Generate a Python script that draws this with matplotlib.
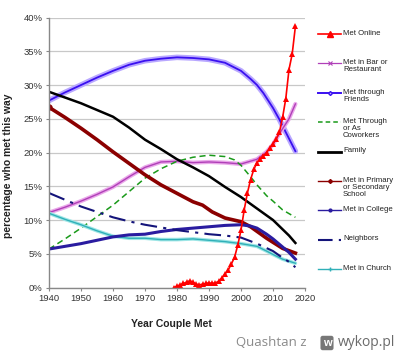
import numpy as np
import matplotlib
matplotlib.use('Agg')
import matplotlib.pyplot as plt
from matplotlib.lines import Line2D
from matplotlib.ticker import FuncFormatter

plt.rcParams['font.family'] = ['Liberation Sans', 'DejaVu Sans']

# data (percent of couples)
online_years = list(range(1979, 2018))
online = [0.0, 0.2, 0.4, 0.6, 0.8, 1.0, 0.8, 0.5, 0.4, 0.5, 0.6, 0.7, 0.6, 0.7,
          0.9, 1.4, 2.0, 2.6, 3.5, 4.5, 6.3, 8.5, 11.5, 14.0, 16.0, 17.5, 18.5,
          19.0, 19.5, 20.0, 20.7, 21.3, 22.0, 23.0, 25.2, 28.0, 32.3, 34.6, 38.7]

bar_years = [1940, 1945, 1950, 1955, 1960, 1965, 1970, 1975, 1980, 1985, 1990, 1995,
             2000, 2005, 2008, 2010, 2012, 2015, 2017]
bar = [11.1, 11.9, 12.8, 13.8, 14.9, 16.4, 17.8, 18.6, 18.7, 18.5, 18.6, 18.5,
       18.3, 19.0, 20.1, 21.2, 22.8, 25.0, 27.2]

friends_years = [1940, 1945, 1950, 1955, 1960, 1965, 1970, 1975, 1980, 1985, 1990, 1995,
                 2000, 2003, 2005, 2007, 2010, 2012, 2014, 2017]
friends = [27.7, 28.9, 30.0, 31.1, 32.1, 33.0, 33.6, 33.9, 34.1, 34.0, 33.8, 33.3,
           32.1, 30.9, 30.0, 28.8, 26.6, 24.9, 23.0, 20.2]

cowork_years = [1940, 1945, 1950, 1955, 1960, 1965, 1970, 1975, 1980, 1985, 1990, 1995,
                1998, 2000, 2003, 2005, 2008, 2010, 2013, 2017]
cowork = [5.7, 7.2, 8.8, 10.5, 12.2, 14.2, 16.2, 17.6, 18.7, 19.3, 19.6, 19.4,
          18.9, 18.1, 16.4, 15.2, 13.6, 12.8, 11.5, 10.4]

family_years = [1940, 1950, 1960, 1965, 1970, 1975, 1980, 1985, 1990, 1995, 2000,
                2005, 2010, 2015, 2017]
family = [29.0, 27.3, 25.3, 23.7, 21.9, 20.5, 19.0, 17.8, 16.5, 14.9, 13.4,
          11.7, 10.0, 7.7, 6.6]

school_years = [1940, 1945, 1950, 1955, 1960, 1965, 1970, 1975, 1981, 1985, 1988,
                1991, 1995, 2000, 2003, 2008, 2013, 2017]
school = [26.7, 25.2, 23.6, 21.9, 20.1, 18.4, 16.7, 15.2, 13.7, 12.7, 12.2,
          11.2, 10.3, 9.75, 9.0, 7.3, 5.8, 5.1]

college_years = [1940, 1945, 1950, 1955, 1960, 1965, 1970, 1975, 1980, 1985, 1990,
                 1995, 2000, 2003, 2005, 2008, 2010, 2013, 2015, 2017]
college = [5.7, 6.1, 6.5, 7.0, 7.5, 7.8, 7.9, 8.3, 8.6, 8.8, 9.0,
           9.2, 9.3, 9.1, 8.8, 7.9, 7.2, 6.0, 5.2, 4.2]

neigh_years = [1940, 1945, 1950, 1955, 1960, 1965, 1970, 1975, 1980, 1985, 1990,
               1995, 2000, 2005, 2010, 2013, 2015, 2017]
neigh = [14.0, 13.0, 12.0, 11.2, 10.4, 9.8, 9.3, 8.9, 8.5, 8.2, 7.9,
         7.7, 7.4, 6.5, 5.4, 4.4, 3.8, 3.0]

church_years = [1940, 1945, 1950, 1955, 1960, 1965, 1970, 1975, 1980, 1985, 1990,
                1995, 2000, 2005, 2008, 2010, 2013, 2017]
church = [11.0, 10.1, 9.3, 8.4, 7.6, 7.3, 7.3, 7.1, 7.1, 7.2, 7.0,
          6.8, 6.5, 6.1, 5.4, 4.9, 4.2, 3.6]

legend_labels = ['Met Online', 'Met in Bar or\nRestaurant', 'Met through\nFriends',
                 'Met Through\nor As\nCoworkers', 'Family',
                 'Met in Primary\nor Secondary\nSchool', 'Met in College',
                 'Neighbors', 'Met in Church']

fig = plt.figure(figsize=(4, 3.52), dpi=100)
ax = fig.add_axes([0.1225, 0.1832, 0.64, 0.767])

# gridlines
ax.set_axisbelow(True)
ax.grid(axis='y', color='#c8c8c8', lw=0.9)

# halo + line for the dense-marker series
ax.plot(friends_years, friends, color='#b9a8ff', lw=4.0, solid_capstyle='round')
ax.plot(friends_years, friends, color='#3a10f0', lw=1.3)
ax.plot(bar_years, bar, color='#eaa8ea', lw=3.0, solid_capstyle='round')
ax.plot(bar_years, bar, color='#b040b8', lw=1.0)
ax.plot(cowork_years, cowork, color='#1a9a1a', lw=1.1, dashes=(4, 2.5))
ax.plot(family_years, family, color='black', lw=1.8)
ax.plot(school_years, school, color='#8b0000', lw=2.6)
ax.plot(school_years[:1], school[:1], 'o', color='#8b0000', ms=3.5)
ax.plot(church_years, church, color='#9ee6e6', lw=2.6, solid_capstyle='round')
ax.plot(church_years, church, color='#30b0b8', lw=1.0)
ax.plot(college_years, college, color='#2a1ca0', lw=2.2)
ax.plot(neigh_years, neigh, color='#14147a', lw=1.5, dashes=(8, 3, 1.5, 3))
ax.plot(online_years, online, color='#ff0000', lw=1.2, marker='^', ms=4.2,
        markeredgewidth=0)

ax.set_xlim(1940, 2020)
ax.set_ylim(0, 40)
ax.set_xticks(range(1940, 2021, 10))
ax.set_yticks(range(0, 41, 5))
ax.yaxis.set_major_formatter(FuncFormatter(lambda v, p: '%d%%' % v))
ax.tick_params(labelsize=6.8, colors='#333333', length=2.5, width=0.8,
               color='#888888', pad=2)

for s in ['top', 'right']:
    ax.spines[s].set_visible(False)
for s in ['left', 'bottom']:
    ax.spines[s].set_color('#888888')
    ax.spines[s].set_linewidth(1.0)

ax.set_ylabel('percentage who met this way', fontsize=7.5, fontweight='bold',
              color='#222222')
ax.yaxis.set_label_coords(-0.14, 0.45)
ax.set_xlabel('Year Couple Met', fontsize=7.5, fontweight='bold', color='#222222')
ax.xaxis.set_label_coords(0.48, -0.117)

# legend, drawn by hand to copy the spacing
handles = [
    dict(color='#ff0000', lw=1.2, marker='^', ms=4),
    dict(color='#b040b8', lw=0.9, marker='x', ms=3, mew=0.8),
    dict(color='#3a10f0', lw=1.4, marker='D', ms=2, mfc='#b9a8ff'),
    dict(color='#1a9a1a', lw=1.1, dashes=(3, 2)),
    dict(color='black', lw=2.0),
    dict(color='#8b0000', lw=1.0, marker='D', ms=2),
    dict(color='#2a1ca0', lw=1.0, marker='o', ms=2),
    dict(color='#14147a', lw=1.5, dashes=(7, 3, 1.5, 3)),
    dict(color='#30b0b8', lw=1.0, marker='+', ms=3.5),
]
W, H = 400.0, 352.0
for i, (lab, h) in enumerate(zip(legend_labels, handles)):
    py = 34 + i * 29.4
    yf = 1 - py / H
    mk = {k: v for k, v in h.items() if k in ('marker', 'ms', 'mfc', 'mew')}
    ln = {k: v for k, v in h.items() if k not in mk}
    fig.add_artist(Line2D([318 / W, 341 / W], [yf, yf], transform=fig.transFigure,
                          **ln))
    if mk:
        fig.add_artist(Line2D([329.5 / W], [yf], transform=fig.transFigure,
                              color=h['color'], markeredgecolor=h['color'],
                              linestyle='none', **mk))
    fig.text(343 / W, yf + 4.3 / H, lab, fontsize=5.6, va='top', ha='left',
             color='#222222', linespacing=1.05)

# watermark
fig.text(306 / W, 1 - 343 / H, 'Quashtan z', fontsize=9.5, color='#8a8a8a',
         ha='right', va='center', family=['Open Sans', 'DejaVu Sans'])
fig.text(338 / W, 1 - 343 / H, 'wykop.pl', fontsize=10, color='#6a6a6a',
         ha='left', va='center', family=['Open Sans', 'DejaVu Sans'])
fig.text(327 / W, 1 - 343 / H, 'w', fontsize=8, color='white', fontweight='bold',
         ha='center', va='center',
         bbox=dict(boxstyle='round,pad=0.2', fc='#777777', ec='none'))

fig.savefig('out.png', dpi=100)
